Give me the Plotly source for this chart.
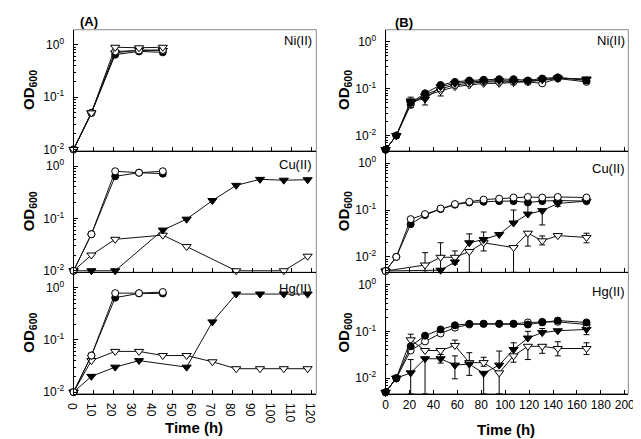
import plotly.graph_objects as go

# ---------------- Panel (A) data ----------------
tA_short = [0, 9, 21, 33, 45]

A_ni_fc = [0.01, 0.05, 0.65, 0.75, 0.72]
A_ni_oc = [0.01, 0.05, 0.75, 0.78, 0.80]
A_ni_ft = [0.01, 0.05, 0.70, 0.80, 0.78]
A_ni_ot = [0.01, 0.05, 0.90, 0.88, 0.90]

A_cu_fc = [0.01, 0.05, 0.64, 0.75, 0.72]
A_cu_oc = [0.01, 0.05, 0.80, 0.75, 0.80]
A_cu_ft_t = [0, 9, 21, 45, 57, 70, 82, 94, 106, 118]
A_cu_ft = [0.01, 0.01, 0.01, 0.06, 0.097, 0.22, 0.43, 0.56, 0.54, 0.55]
A_cu_ot_t = [0, 9, 21, 45, 57, 82, 106, 118]
A_cu_ot = [0.01, 0.02, 0.04, 0.048, 0.029, 0.01, 0.01, 0.019]

A_hg_fc = [0.01, 0.05, 0.64, 0.77, 0.77]
A_hg_oc = [0.01, 0.05, 0.78, 0.78, 0.82]
A_hg_ft_t = [0, 9, 21, 33, 57, 70, 82, 94, 106, 118]
A_hg_ft = [0.01, 0.02, 0.03, 0.04, 0.03, 0.22, 0.75, 0.75, 0.75, 0.75]
A_hg_ot_t = [0, 9, 21, 33, 45, 57, 70, 82, 94, 106, 118]
A_hg_ot = [0.01, 0.04, 0.06, 0.06, 0.05, 0.05, 0.038, 0.028, 0.028, 0.028, 0.028]

# ---------------- Panel (B) data ----------------
tB = [0, 9, 21, 33, 46, 58, 70, 82, 95, 107, 119, 131, 144, 168]

B_ni_fc = [0.005, 0.01, 0.05, 0.08, 0.12, 0.14, 0.15, 0.155, 0.16, 0.16, 0.15, 0.165, 0.175, 0.15]
B_ni_oc = [0.005, 0.01, 0.045, 0.075, 0.10, 0.12, 0.13, 0.14, 0.14, 0.14, 0.14, 0.13, 0.165, 0.14]
B_ni_ft = [0.005, 0.01, 0.055, 0.06, 0.11, 0.13, 0.14, 0.145, 0.15, 0.145, 0.145, 0.155, 0.17, 0.16]
B_ni_ot = [0.005, 0.01, 0.05, 0.07, 0.09, 0.11, 0.12, 0.13, 0.13, 0.135, 0.14, 0.15, 0.165, 0.16]
B_ni_ft_hi = [None, None, 0.066, None, None, None, None, None, None, None, None, None, None, None]
B_ni_ft_lo = [None, None, 0.04, 0.045, None, None, None, None, None, None, None, None, None, None]
B_ni_ot_lo = [None, None, None, 0.06, 0.07, None, None, None, None, None, None, None, None, None]

B_cu_fc = [0.005, 0.01, 0.05, 0.078, 0.105, 0.13, 0.145, 0.15, 0.155, 0.155, 0.145, 0.155, 0.16, 0.155]
B_cu_oc = [0.005, 0.01, 0.064, 0.082, 0.108, 0.134, 0.15, 0.167, 0.175, 0.185, 0.19, 0.185, 0.19, 0.185]
B_cu_ft_t = [0, 46, 58, 70, 82, 95, 107, 119, 131, 144, 168]
B_cu_ft = [0.005, 0.0052, 0.0078, 0.02, 0.0235, 0.03, 0.053, 0.082, 0.097, 0.138, 0.155]
B_cu_ft_hi = [None, None, None, 0.031, 0.034, None, 0.1, 0.15, None, 0.15, None]
B_cu_ft_lo = [None, None, None, None, None, None, None, None, 0.048, 0.12, None]
B_cu_ot_t = [0, 33, 46, 58, 70, 82, 107, 119, 131, 144, 168]
B_cu_ot = [0.005, 0.0067, 0.0098, 0.0098, 0.013, 0.02, 0.0158, 0.032, 0.022, 0.0285, 0.026]
B_cu_ot_hi = [None, 0.0123, 0.02, 0.0134, None, None, None, None, 0.028, None, 0.032]
B_cu_ot_lo = [None, 0.001, 0.001, 0.007, 0.001, 0.0134, 0.001, 0.017, 0.018, None, 0.02]

B_hg_fc = [0.005, 0.01, 0.048, 0.081, 0.11, 0.135, 0.145, 0.145, 0.145, 0.145, 0.14, 0.155, 0.17, 0.155]
B_hg_oc = [0.005, 0.01, 0.039, 0.061, 0.09, 0.12, 0.14, 0.145, 0.145, 0.145, 0.155, 0.16, 0.16, 0.14]
B_hg_ft = [0.005, 0.01, 0.013, 0.026, 0.026, 0.019, 0.02, 0.0127, 0.019, 0.041, 0.072, 0.094, 0.103, 0.11]
B_hg_ft_hi = [None, None, 0.025, None, 0.032, 0.03, None, None, 0.038, 0.057, 0.1, 0.115, None, 0.13]
B_hg_ft_lo = [None, None, 0.001, 0.001, 0.021, 0.0097, None, 0.001, None, None, None, None, None, 0.085]
B_hg_ot = [0.005, 0.01, 0.066, 0.039, 0.039, 0.05, 0.0215, 0.0215, 0.013, 0.03, 0.048, 0.048, 0.043, 0.043]
B_hg_ot_hi = [None, None, 0.087, None, None, 0.065, 0.035, 0.028, None, None, None, None, 0.06, 0.057]
B_hg_ot_lo = [None, None, 0.052, None, None, None, 0.0115, 0.018, 0.001, 0.022, 0.025, 0.034, 0.03, 0.032]

yticks_vals = [0.01, 0.1, 1]
yticks_text = ["10<sup>-2</sup>", "10<sup>-1</sup>", "10<sup>0</sup>"]
metal_labels = ["Ni(II)", "Cu(II)", "Hg(II)"]

# ---------------- layout geometry ----------------
W, H = 641, 439
xdomA = [58 / W, 307 / W]
xdomB = [378 / W, 627 / W]
ydoms = [[1 - 145 / H, 1 - 22 / H], [1 - 268 / H, 1 - 145 / H], [1 - 391 / H, 1 - 268 / H]]
yrangeA = [-2.03, 0.29]
yrangeB = [-2.33, 0.26]
FONT = "Liberation Sans, Arial, sans-serif"

fig = go.Figure()

STYLES = {
    "fc": dict(symbol="circle", color="black"),
    "oc": dict(symbol="circle", color="white"),
    "ft": dict(symbol="triangle-down", color="black"),
    "ot": dict(symbol="triangle-down", color="white"),
}


def err(vals, hi, lo, floor):
    up, dn = [], []
    for i, v in enumerate(vals):
        h = hi[i] if hi is not None else None
        l = lo[i] if lo is not None else None
        up.append(h - v if h is not None else 0)
        if l is not None:
            l = max(l, floor)
            dn.append(v - l)
        else:
            dn.append(0)
    return up, dn


def add(x, y, kind, axn, hi=None, lo=None, floor=None):
    st = STYLES[kind]
    size = 7 if "c" in kind[1] else 8
    tr = dict(
        x=x, y=y, mode="lines+markers",
        line=dict(color="#111", width=1),
        marker=dict(symbol=st["symbol"], size=size, color=st["color"],
                    line=dict(color="black", width=1)),
        xaxis="x" + ("" if axn == 1 else str(axn)),
        yaxis="y" + ("" if axn == 1 else str(axn)),
        showlegend=False, hoverinfo="skip", cliponaxis=False,
    )
    if hi is not None or lo is not None:
        up, dn = err(y, hi, lo, floor)
        tr["error_y"] = dict(type="data", symmetric=False, array=up, arrayminus=dn,
                             color="black", thickness=1, width=3)
    fig.add_trace(go.Scatter(**tr))


fA = 10 ** yrangeA[0]
fB = 10 ** yrangeB[0]
# A Ni
add(tA_short, A_ni_fc, "fc", 1)
add(tA_short, A_ni_ft, "ft", 1)
add(tA_short, A_ni_oc, "oc", 1)
add(tA_short, A_ni_ot, "ot", 1)
# A Cu
add(A_cu_ot_t, A_cu_ot, "ot", 2)
add(A_cu_ft_t, A_cu_ft, "ft", 2)
add(tA_short, A_cu_fc, "fc", 2)
add(tA_short, A_cu_oc, "oc", 2)
# A Hg
add(A_hg_ot_t, A_hg_ot, "ot", 3)
add(A_hg_ft_t, A_hg_ft, "ft", 3)
add(tA_short, A_hg_fc, "fc", 3)
add(tA_short, A_hg_oc, "oc", 3)
# B Ni
add(tB, B_ni_ot, "ot", 4, None, B_ni_ot_lo, fB)
add(tB, B_ni_oc, "oc", 4)
add(tB, B_ni_ft, "ft", 4, B_ni_ft_hi, B_ni_ft_lo, fB)
add(tB, B_ni_fc, "fc", 4)
# B Cu
add(B_cu_ot_t, B_cu_ot, "ot", 5, B_cu_ot_hi, B_cu_ot_lo, fB)
add(B_cu_ft_t, B_cu_ft, "ft", 5, B_cu_ft_hi, B_cu_ft_lo, fB)
add(tB, B_cu_fc, "fc", 5)
add(tB, B_cu_oc, "oc", 5)
# B Hg
add(tB, B_hg_ot, "ot", 6, B_hg_ot_hi, B_hg_ot_lo, fB)
add(tB, B_hg_ft, "ft", 6, B_hg_ft_hi, B_hg_ft_lo, fB)
add(tB, B_hg_oc, "oc", 6)
add(tB, B_hg_fc, "fc", 6)

minor_vals = [m * 10 ** e for e in range(-3, 1) for m in range(2, 10)]

layout = dict(
    width=W, height=H, margin=dict(l=0, r=0, t=0, b=0),
    paper_bgcolor="white", plot_bgcolor="white",
    font=dict(family=FONT, size=12, color="black"),
)
shapes = []
for i in range(6):
    n = i + 1
    isA = i < 3
    row = i % 3
    xd = xdomA if isA else xdomB
    yd = ydoms[row]
    xk = "xaxis" + ("" if n == 1 else str(n))
    yk = "yaxis" + ("" if n == 1 else str(n))
    layout[xk] = dict(
        domain=xd, anchor="y" + ("" if n == 1 else str(n)),
        range=[0, 122.4] if isA else [0, 203],
        tick0=0, dtick=10 if isA else 20, tickmode="linear",
        ticks="inside", ticklen=4, tickcolor="black",
        showticklabels=(row == 2), tickfont=dict(size=12, family=FONT),
        showline=True, linecolor="black", linewidth=1,
        showgrid=False, zeroline=False, ticklabelstandoff=0,
    )
    layout[yk] = dict(
        domain=yd, anchor="x" + ("" if n == 1 else str(n)), type="log",
        range=yrangeA if isA else yrangeB,
        tickmode="array", tickvals=yticks_vals, ticktext=yticks_text,
        ticks="inside", ticklen=4, tickcolor="black",
        tickfont=dict(size=12, family=FONT),
        minor=dict(tickmode="array", tickvals=minor_vals, ticks="inside", ticklen=2,
                   tickcolor="black"),
        showline=True, linecolor="black", linewidth=1,
        showgrid=False, zeroline=False, ticklabelstandoff=6,
    )
    shapes.append(dict(type="rect", xref="paper", yref="paper",
                       x0=xd[0], x1=xd[1], y0=yd[0], y1=yd[1],
                       line=dict(color="#8a8a8a", width=1), layer="below"))

layout["shapes"] = shapes

ann = []
for row in range(3):
    yc = (ydoms[row][0] + ydoms[row][1]) / 2
    for xc in (13 / W, 336 / W):
        ann.append(dict(text="<b>OD<sub>600</sub></b>", x=xc, y=yc, xref="paper", yref="paper",
                        textangle=-90, showarrow=False, font=dict(size=15, family=FONT),
                        xanchor="center", yanchor="middle"))
metal_y = [33, 159, 284]
metal_yB = [33, 163, 287]
for row in range(3):
    ann.append(dict(text=metal_labels[row], x=305 / W, y=1 - metal_y[row] / H, xref="paper",
                    yref="paper", showarrow=False, xanchor="right", yanchor="middle",
                    font=dict(size=13, family=FONT)))
    ann.append(dict(text=metal_labels[row], x=626 / W, y=1 - metal_yB[row] / H, xref="paper",
                    yref="paper", showarrow=False, xanchor="right", yanchor="middle",
                    font=dict(size=13, family=FONT)))
ann.append(dict(text="<b>Time (h)</b>", x=182 / W, y=1 - 425 / H, xref="paper", yref="paper",
                showarrow=False, xanchor="center", yanchor="middle",
                font=dict(size=15, family=FONT)))
ann.append(dict(text="<b>Time (h)</b>", x=502 / W, y=1 - 427 / H, xref="paper", yref="paper",
                showarrow=False, xanchor="center", yanchor="middle",
                font=dict(size=15, family=FONT)))
ann.append(dict(text="<b>(A)</b>", x=63 / W, y=1 - 14 / H, xref="paper", yref="paper",
                showarrow=False, xanchor="left", yanchor="middle", font=dict(size=13, family=FONT)))
ann.append(dict(text="<b>(B)</b>", x=386 / W, y=1 - 15 / H, xref="paper", yref="paper",
                showarrow=False, xanchor="left", yanchor="middle", font=dict(size=13, family=FONT)))
layout["annotations"] = ann

fig.update_layout(**layout)
fig.write_html("out.html")
